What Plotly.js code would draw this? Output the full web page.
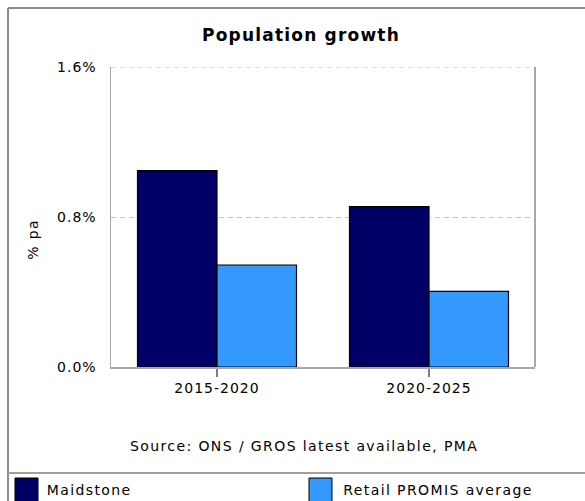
<!DOCTYPE html>
<html>
<head>
<meta charset="utf-8">
<script src="https://cdn.plot.ly/plotly-3.0.1.min.js"></script>
<style>
  html, body { margin: 0; padding: 0; background: #ffffff; }
  #chart { width: 585px; height: 501px; }
  #chart .xtick text, #chart .ytick text { letter-spacing: 1px; }
  #chart .annotation-text { letter-spacing: 1.4px; }
  #chart .gtitle { letter-spacing: 1.2px; }
</style>
</head>
<body>
<div id="chart"></div>
<script>
// ---- data ----
const categories = ['2015-2020', '2020-2025'];
const maidstone = [1.047, 0.855];
const retailPromis = [0.544, 0.403];
const seriesNames = ['Maidstone', 'Retail PROMIS average'];
const seriesColors = ['#000066', '#3399FF'];
const yTickVals = [0, 0.8, 1.6];
const yTickText = ['0.0%', '0.8%', '1.6%'];
const chartTitle = 'Population growth';
const yTitle = '% pa';
const sourceText = 'Source: ONS / GROS latest available, PMA';

// ---- layout geometry (pixels) ----
const W = 585, H = 501;
const PL = 111, PR = 535, PT = 67, PB = 367;
const px = v => (v - PL) / (PR - PL);
const py = v => (PB - v) / (PB - PT);
const LS = 1.4; // css letter-spacing of annotation text
const lsShift = s => s.length * LS / 2; // compensate centred-measure offset

const FONT = 'DejaVu Sans, Verdana, sans-serif';

const traces = [
  { type: 'bar', name: seriesNames[0], x: categories, y: maidstone,
    marker: { color: seriesColors[0], line: { color: '#000000', width: 1.2 } },
    hoverinfo: 'skip' },
  { type: 'bar', name: seriesNames[1], x: categories, y: retailPromis,
    marker: { color: seriesColors[1], line: { color: '#000000', width: 1.2 } },
    hoverinfo: 'skip' }
];

const grey = '#8c8c8c';
const shapes = [
  // dashed top gridline (plot top edge)
  { type: 'line', xref: 'paper', yref: 'y', x0: 0, x1: 1, y0: yTickVals[2], y1: yTickVals[2],
    line: { color: '#c4c4c4', width: 1, dash: '5px,4px' }, layer: 'below' },
  // outer frame (left, top)
  { type: 'line', xref: 'paper', yref: 'paper', x0: px(8), x1: px(8), y0: py(8), y1: py(501), line: { color: grey, width: 2 } },
  { type: 'line', xref: 'paper', yref: 'paper', x0: px(8), x1: px(585), y0: py(8), y1: py(8), line: { color: grey, width: 2 } },
  // separator above legend
  { type: 'line', xref: 'paper', yref: 'paper', x0: px(8), x1: px(585), y0: py(473), y1: py(473), line: { color: '#a0a0a0', width: 2 } },
  // plot right border
  { type: 'line', xref: 'paper', yref: 'paper', x0: 1, x1: 1, y0: 0, y1: 1, line: { color: '#a8a8a8', width: 2 } },
  // legend swatches
  { type: 'rect', xref: 'paper', yref: 'paper', x0: px(15), x1: px(38), y0: py(478), y1: py(502),
    fillcolor: seriesColors[0], line: { color: '#000000', width: 1 } },
  { type: 'rect', xref: 'paper', yref: 'paper', x0: px(309), x1: px(332), y0: py(478), y1: py(502),
    fillcolor: seriesColors[1], line: { color: '#000000', width: 1 } }
];

const annotations = [
  { text: yTitle, xref: 'paper', yref: 'paper', x: px(33), y: py(240), textangle: -90,
    showarrow: false, xanchor: 'center', yanchor: 'middle', font: { family: FONT, size: 14, color: '#000' } },
  { text: sourceText, xref: 'paper', yref: 'paper', x: px(304), y: py(446),
    showarrow: false, xanchor: 'center', yanchor: 'middle', font: { family: FONT, size: 14, color: '#000' } },
  { text: seriesNames[0], xref: 'paper', yref: 'paper', x: px(45), y: py(490), xshift: lsShift(seriesNames[0]),
    showarrow: false, xanchor: 'left', yanchor: 'middle', font: { family: FONT, size: 14, color: '#000' } },
  { text: seriesNames[1], xref: 'paper', yref: 'paper', x: px(341), y: py(490), xshift: lsShift(seriesNames[1]),
    showarrow: false, xanchor: 'left', yanchor: 'middle', font: { family: FONT, size: 14, color: '#000' } }
];

const layout = {
  width: W, height: H,
  margin: { l: PL, r: W - PR, t: PT, b: H - PB, pad: 0 },
  paper_bgcolor: '#ffffff', plot_bgcolor: '#ffffff',
  showlegend: false,
  title: { text: '<b>' + chartTitle + '</b>', xref: 'container', yref: 'container',
           x: 301 / W, y: 1 - 35 / H, xanchor: 'center', yanchor: 'middle',
           font: { family: FONT, size: 17, color: '#000' } },
  barmode: 'group', bargap: 0.25, bargroupgap: 0,
  xaxis: { type: 'category', showline: true, linecolor: '#a8a8a8', linewidth: 1.5,
           ticks: 'outside', ticklen: 8, tickcolor: '#808080', tickwidth: 1.5,
           showgrid: false, zeroline: false, fixedrange: true,
           tickfont: { family: FONT, size: 14, color: '#000' } },
  yaxis: { range: [0, 1.6], tickvals: yTickVals, ticktext: yTickText,
           showline: true, linecolor: '#a8a8a8', linewidth: 1.5, ticks: '',
           showgrid: true, gridcolor: '#c4c4c4', gridwidth: 1, griddash: '5px,4px',
           zeroline: false, fixedrange: true, ticklabelstandoff: 10,
           tickfont: { family: FONT, size: 14, color: '#000' } },
  shapes: shapes,
  annotations: annotations
};

Plotly.newPlot('chart', traces, layout, { displayModeBar: false, staticPlot: true });
</script>
</body>
</html>
